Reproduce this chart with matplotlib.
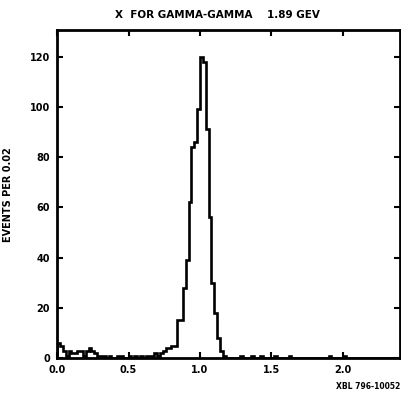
import matplotlib
matplotlib.use("Agg")
import matplotlib.pyplot as plt
import numpy as np

# events per 0.02 bin, x from 0.0 to 2.4
bin_width = 0.02
counts = [
    6, 5, 3, 1, 3, 2, 2, 3, 3, 1,      # 0.00 - 0.18
    3, 4, 3, 2, 1, 1, 1, 0, 1, 0,      # 0.20 - 0.38
    0, 1, 1, 0, 0, 1, 0, 1, 0, 1,      # 0.40 - 0.58
    0, 1, 1, 1, 2, 1, 2, 3, 4, 4,      # 0.60 - 0.78
    5, 5, 15, 15, 28, 39, 62, 84, 86, 99,   # 0.80 - 0.98
    120, 118, 91, 56, 30, 18, 8, 3, 1, 0,   # 1.00 - 1.18
    0, 0, 0, 0, 1, 0, 0, 0, 1, 0,      # 1.20 - 1.38
    0, 1, 0, 0, 0, 0, 1, 0, 0, 0,      # 1.40 - 1.58
    0, 1, 0, 0, 0, 0, 0, 0, 0, 0,      # 1.60 - 1.78
    0, 0, 0, 0, 0, 1, 0, 0, 0, 0,      # 1.80 - 1.98
    1, 0, 0, 0, 0, 0, 0, 0, 0, 0,      # 2.00 - 2.18
    0, 0, 0, 0, 0, 0, 0, 0, 0, 0,      # 2.20 - 2.38
]
x_ticks = [0.0, 0.5, 1.0, 1.5, 2.0]
x_labels = ["0.0", "0.5", "1.0", "1.5", "2.0"]
y_ticks = [0, 20, 40, 60, 80, 100, 120]

edges = np.arange(len(counts) + 1) * bin_width

fig = plt.figure(figsize=(4.02, 3.97), dpi=100)
ax = fig.add_axes([0.142, 0.098, 0.853, 0.826])

ax.stairs(counts, edges, color="black", linewidth=1.9)

ax.set_xlim(0, 2.4)
ax.set_ylim(0, 130.5)
ax.set_xticks(x_ticks)
ax.set_xticklabels(x_labels)
ax.set_yticks(y_ticks)
ax.tick_params(direction="in", length=4, width=1.5, top=True, right=True,
               labelsize=7, pad=5)
for lab in ax.get_xticklabels() + ax.get_yticklabels():
    lab.set_fontweight("bold")
for sp in ax.spines.values():
    sp.set_linewidth(2)

ax.set_ylabel("EVENTS PER 0.02", fontsize=7, fontweight="bold", labelpad=12)
fig.text(0.54, 0.963, "X  FOR GAMMA-GAMMA    1.89 GEV", ha="center", va="center",
         fontsize=7.5, fontweight="bold")
fig.text(0.995, 0.027, "XBL 796-10052", ha="right", va="center",
         fontsize=5.5, fontweight="bold")

fig.savefig("out.png", dpi=100)
